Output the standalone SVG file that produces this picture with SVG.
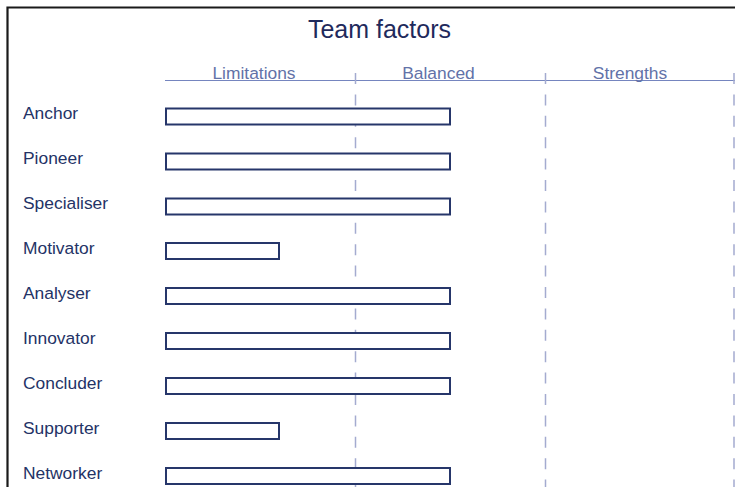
<svg xmlns="http://www.w3.org/2000/svg" width="735" height="487" viewBox="0 0 735 487">
<style>
.lbl{font-family:"Liberation Sans",Arial,sans-serif;font-size:17.4px;fill:#243366}
.hdr{font-family:"Liberation Sans",Arial,sans-serif;font-size:17.4px;fill:#6272a8;text-anchor:middle}
.ttl{font-family:"Liberation Sans",Arial,sans-serif;font-size:25px;fill:#1f2a5c;text-anchor:middle}
.bar{fill:#fff;stroke:#26366a;stroke-width:2}
.dash{stroke:#a4abd0;stroke-width:1.5;stroke-dasharray:11 10.4}
</style>
<rect width="735" height="487" fill="#fff"/>
<path d="M7.5 487V7.5H735" fill="none" stroke="#1a1a1a" stroke-width="2.2"/>
<text class="ttl" x="379.5" y="38">Team factors</text>
<g id="axis">
<line x1="165" y1="80.5" x2="735" y2="80.5" stroke="#7585bf" stroke-width="1.2"/>
<text class="hdr" x="254" y="78.5">Limitations</text>
<text class="hdr" x="438.5" y="78.5">Balanced</text>
<text class="hdr" x="630" y="78.5">Strengths</text>
</g>
<g id="gridlines">
<line class="dash" x1="355.5" y1="73" x2="355.5" y2="487"/>
<line class="dash" x1="545.5" y1="73" x2="545.5" y2="487"/>
<line class="dash" x1="734" y1="73" x2="734" y2="487"/>
</g>
<g id="anchor"><text class="lbl" x="23" y="118.5">Anchor</text><rect class="bar" x="166" y="108.5" width="284" height="16"/></g>
<g id="pioneer"><text class="lbl" x="23" y="163.5">Pioneer</text><rect class="bar" x="166" y="153.5" width="284" height="16"/></g>
<g id="specialiser"><text class="lbl" x="23" y="208.5">Specialiser</text><rect class="bar" x="166" y="198.5" width="284" height="16"/></g>
<g id="motivator"><text class="lbl" x="23" y="253.5">Motivator</text><rect class="bar" x="166" y="243" width="113" height="16"/></g>
<g id="analyser"><text class="lbl" x="23" y="298.5">Analyser</text><rect class="bar" x="166" y="288" width="284" height="16"/></g>
<g id="innovator"><text class="lbl" x="23" y="343.5">Innovator</text><rect class="bar" x="166" y="333" width="284" height="16"/></g>
<g id="concluder"><text class="lbl" x="23" y="388.5">Concluder</text><rect class="bar" x="166" y="378" width="284" height="16"/></g>
<g id="supporter"><text class="lbl" x="23" y="433.5">Supporter</text><rect class="bar" x="166" y="423" width="113" height="16"/></g>
<g id="networker"><text class="lbl" x="23" y="478.5">Networker</text><rect class="bar" x="166" y="468" width="284" height="16"/></g>
</svg>
